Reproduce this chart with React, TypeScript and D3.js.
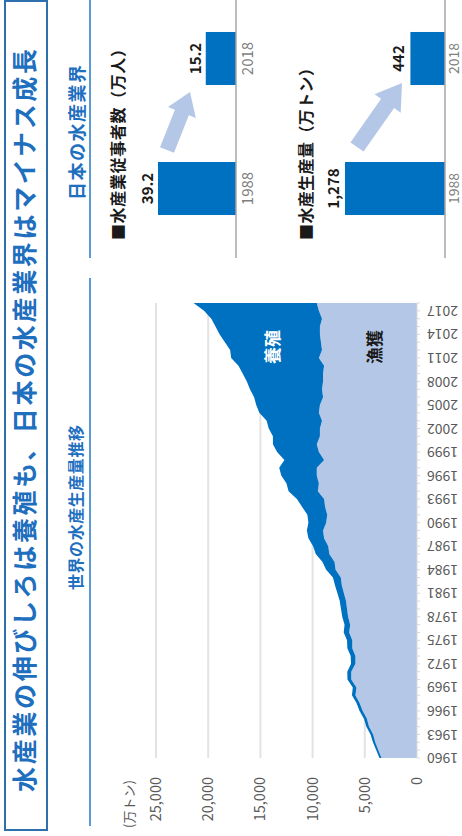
import React from "react";
import * as d3 from "d3";

// ---- data ----
const years = [
  1960, 1961, 1962, 1963, 1964, 1965, 1966, 1967, 1968, 1969,
  1970, 1971, 1972, 1973, 1974, 1975, 1976, 1977, 1978, 1979,
  1980, 1981, 1982, 1983, 1984, 1985, 1986, 1987, 1988, 1989,
  1990, 1991, 1992, 1993, 1994, 1995, 1996, 1997, 1998, 1999,
  2000, 2001, 2002, 2003, 2004, 2005, 2006, 2007, 2008, 2009,
  2010, 2011, 2012, 2013, 2014, 2015, 2016, 2017, 2018,
];
// 漁獲 (capture), 万トン
const captureValues = [
  3400, 3700, 4000, 4200, 4600, 4800, 5200, 5500, 5900, 5800,
  6300, 6300, 5900, 5900, 6200, 6200, 6500, 6400, 6600, 6700,
  6800, 7000, 7200, 7300, 7800, 7900, 8400, 8500, 8900, 9000,
  8700, 8600, 8800, 8900, 9500, 9400, 9600, 9600, 8900, 9400,
  9600, 9300, 9300, 9100, 9400, 9300, 9000, 9100, 9000, 9000,
  8900, 9400, 9100, 9200, 9300, 9300, 9100, 9400, 9600,
];
// 養殖 (aquaculture), 万トン
const aquacultureValues = [
  200, 200, 220, 250, 260, 280, 300, 300, 330, 350,
  360, 380, 420, 450, 470, 500, 520, 540, 560, 580,
  600, 620, 650, 750, 900, 1150, 1300, 1450, 1500, 1550,
  1700, 1900, 2200, 2600, 2800, 3100, 3400, 3600, 3800, 4000,
  4200, 4500, 4900, 5300, 5700, 6100, 6600, 6900, 7300, 7700,
  8200, 8400, 8800, 9200, 9600, 10000, 10600, 11000, 11800,
];
const yearTickLabels = [
  1960, 1963, 1966, 1969, 1972, 1975, 1978, 1981, 1984, 1987,
  1990, 1993, 1996, 1999, 2002, 2005, 2008, 2011, 2014, 2017,
];
const valueTicks = [0, 5000, 10000, 15000, 20000, 25000];

const jpCategories = ["1988", "2018"];
const workersValues = [39.2, 15.2];
const workersLabels = ["39.2", "15.2"];
const productionValues = [1278, 442];
const productionLabels = ["1,278", "442"];

const titleText = "水産業の伸びしろは養殖も、日本の水産業界はマイナス成長";
const leftSubtitle = "世界の水産生産量推移";
const rightSubtitle = "日本の水産業界";
const workersTitle = "■水産業従事者数（万人）";
const productionTitle = "■水産生産量（万トン）";

// ---- styles ----
const FONT = "'Noto Sans CJK JP', 'Noto Sans', sans-serif";
const DARK = "#0070c0";
const LIGHT = "#b4c7e7";
const BLUE_TEXT = "#1f6fbf";
const GRAY = "#595959";

function arrowPoints(
  x1: number, y1: number, x2: number, y2: number,
  shaft: number, headW: number, headL: number
) {
  const dx = x2 - x1, dy = y2 - y1;
  const len = Math.hypot(dx, dy);
  const ux = dx / len, uy = dy / len;
  const nx = -uy, ny = ux;
  const bx = x2 - ux * headL, by = y2 - uy * headL;
  const pts = [
    [x1 + nx * shaft / 2, y1 + ny * shaft / 2],
    [bx + nx * shaft / 2, by + ny * shaft / 2],
    [bx + nx * headW / 2, by + ny * headW / 2],
    [x2, y2],
    [bx - nx * headW / 2, by - ny * headW / 2],
    [bx - nx * shaft / 2, by - ny * shaft / 2],
    [x1 - nx * shaft / 2, y1 - ny * shaft / 2],
  ];
  return pts.map((p) => p.join(",")).join(" ");
}

export default function App() {
  // original (landscape) coordinate system 836 x 462, rotated -90deg into the page
  const x = d3.scaleLinear().domain([1960, 2018]).range([78, 533]);
  const y = d3.scaleLinear().domain([0, 25000]).range([417, 156]);

  const rows = years.map((yr, i) => ({
    year: yr,
    capture: captureValues[i],
    aquaculture: aquacultureValues[i],
  }));
  const stack = d3.stack<any>().keys(["capture", "aquaculture"]);
  const series = stack(rows);
  const area = d3
    .area<any>()
    .x((d) => x(d.data.year))
    .y0((d) => y(d[0]))
    .y1((d) => y(d[1]))
    .curve(d3.curveLinear);

  const xb = d3
    .scaleBand()
    .domain(jpCategories)
    .range([576, 849])
    .paddingInner(0.592)
    .paddingOuter(0.346);
  const yWorkers = d3.scaleLinear().domain([0, 50]).range([236, 136.5]);
  const yProd = d3.scaleLinear().domain([0, 1500]).range([445, 327.6]);

  return (
    <svg
      width={462}
      height={836}
      style={{ position: "absolute", left: 0, top: 0, background: "#fff" }}
      fontFamily={FONT}
    >
      <rect x={0} y={0} width={462} height={836} fill="#fff" />
      <g transform="translate(0,836) rotate(-90)">
        {/* title box */}
        <rect x={6} y={5} width={829} height={42} fill="#fff" stroke="#2e6fae" strokeWidth={2} />
        <text
          x={44}
          y={34}
          fontSize={25}
          fontWeight={700}
          fill={BLUE_TEXT}
          textLength={743}
          lengthAdjust="spacing"
        >
          {titleText}
        </text>

        {/* subtitles */}
        <text x={328.5} y={82} fontSize={16} fontWeight={700} fill={BLUE_TEXT} textAnchor="middle"
          textLength={165} lengthAdjust="spacing">
          {leftSubtitle}
        </text>
        <text x={703.5} y={84} fontSize={18} fontWeight={700} fill={BLUE_TEXT} textAnchor="middle"
          textLength={135} lengthAdjust="spacing">
          {rightSubtitle}
        </text>
        <line x1={10} x2={558} y1={90} y2={90} stroke="#5b9bd5" strokeWidth={2} />
        <line x1={578} x2={836} y1={90} y2={90} stroke="#5b9bd5" strokeWidth={2} />

        {/* ---- world production area chart ---- */}
        {valueTicks.slice(1).map((v) => (
          <line key={v} x1={x(1960)} x2={x(2018)} y1={y(v)} y2={y(v)} stroke="#e3e3e3" strokeWidth={2} />
        ))}
        {series.map((s, i) => (
          <path key={s.key} d={area(s as any) || ""} fill={i === 0 ? LIGHT : DARK} />
        ))}
        <line x1={x(1960)} x2={x(2018)} y1={y(0)} y2={y(0)} stroke="#d9d9d9" strokeWidth={1} />
        {years.map((yr) => (
          <line key={yr} x1={x(yr)} x2={x(yr)} y1={y(0)} y2={y(0) + 3} stroke="#d9d9d9" strokeWidth={1} />
        ))}
        {valueTicks.map((v) => (
          <text key={v} x={59} y={y(v)} dy="0.35em" textAnchor="end" fontSize={14.5} fill={GRAY}>
            {d3.format(",")(v)}
          </text>
        ))}
        <text x={8} y={134} fontSize={13} fill={GRAY}>(万トン)</text>
        {yearTickLabels.map((yr) => (
          <text
            key={yr}
            transform={`translate(${x(yr)},427) rotate(-90)`}
            dy="0.35em"
            textAnchor="end"
            fontSize={14}
            fill={GRAY}
          >
            {yr}
          </text>
        ))}
        <text x={489} y={273} dy="0.35em" textAnchor="middle" fontSize={17} fontWeight={700} fill="#fff">養殖</text>
        <text x={489} y={375} dy="0.35em" textAnchor="middle" fontSize={17} fontWeight={700} fill="#1a1a1a">漁獲</text>

        {/* ---- Japan: workers ---- */}
        <text x={596} y={124} fontSize={16} fontWeight={700} fill="#1a1a1a" textLength={199} lengthAdjust="spacing">
          {workersTitle}
        </text>
        <polygon points={arrowPoints(686, 167, 744, 190, 15, 30, 22)} fill={LIGHT} />
        {jpCategories.map((c, i) => (
          <g key={c}>
            <rect
              x={xb(c)}
              y={yWorkers(workersValues[i])}
              width={xb.bandwidth()}
              height={yWorkers(0) - yWorkers(workersValues[i])}
              fill={DARK}
            />
            <text
              x={(xb(c) as number) + xb.bandwidth() / 2}
              y={yWorkers(workersValues[i]) - 5}
              textAnchor="middle"
              fontSize={15}
              fontWeight={700}
              fill="#1a1a1a"
            >
              {workersLabels[i]}
            </text>
            <text
              x={(xb(c) as number) + xb.bandwidth() / 2}
              y={253}
              textAnchor="middle"
              fontSize={15}
              fill="#7f7f7f"
            >
              {c}
            </text>
          </g>
        ))}
        <line x1={578} x2={836} y1={yWorkers(0)} y2={yWorkers(0)} stroke="#a6a6a6" strokeWidth={1.5} />

        {/* ---- Japan: production ---- */}
        <text x={596} y={312} fontSize={16} fontWeight={700} fill="#1a1a1a" textLength={180} lengthAdjust="spacing">
          {productionTitle}
        </text>
        <polygon points={arrowPoints(689, 357, 753, 402, 16, 32, 25)} fill={LIGHT} />
        {jpCategories.map((c, i) => (
          <g key={c}>
            <rect
              x={xb(c)}
              y={yProd(productionValues[i])}
              width={xb.bandwidth()}
              height={yProd(0) - yProd(productionValues[i])}
              fill={DARK}
            />
            <text
              x={(xb(c) as number) + xb.bandwidth() / 2}
              y={yProd(productionValues[i]) - 6}
              textAnchor="middle"
              fontSize={15}
              fontWeight={700}
              fill="#1a1a1a"
            >
              {productionLabels[i]}
            </text>
            <text
              x={(xb(c) as number) + xb.bandwidth() / 2}
              y={459}
              textAnchor="middle"
              fontSize={14}
              fill="#7f7f7f"
            >
              {c}
            </text>
          </g>
        ))}
        <line x1={578} x2={836} y1={yProd(0)} y2={yProd(0)} stroke="#a6a6a6" strokeWidth={1.5} />
      </g>
    </svg>
  );
}
